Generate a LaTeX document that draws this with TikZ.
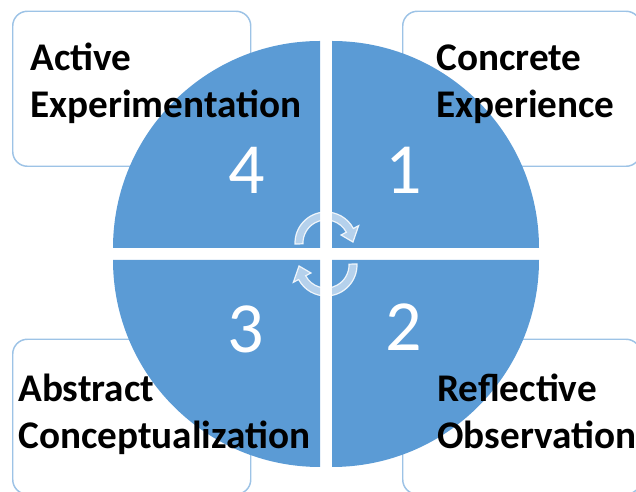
\documentclass[tikz,border=0pt]{standalone}
\usepackage{fontspec}
\setmainfont{Carlito}
\definecolor{cycleblue}{HTML}{5B9BD5}
\definecolor{boxline}{HTML}{9DC3E6}
\tikzset{
    stagebox/.style={
        rectangle,
        draw=boxline,        % border colour
        line width=1.1pt,
        fill=white,
        rounded corners=11pt,
        minimum width=178.5pt,
        minimum height=116.25pt,
        anchor=south west,
        inner sep=0
    },
    stagetext/.style={
        anchor=base west,    % baseline of the last line
        align=left,
        inner sep=0,
        font=\bfseries\fontsize{29.4}{35.25}\selectfont
    },
    stagenum/.style={
        text=white,
        inner sep=0,
        font=\fontsize{54}{54}\selectfont
    },
    quarter/.style={fill=cycleblue},
    turnarrow/.style={
        fill=white, fill opacity=0.55,
        draw=white, draw opacity=0.85,
        line width=0.9pt
    }
}

\begin{document}
\begin{tikzpicture}[x=0.75pt, y=0.75pt]
\useasboundingbox (0,0) rectangle (636,492);

\def\R{207}
% corners of the four quarters
\coordinate (Q1) at (332,244);
\coordinate (Q2) at (332,232);
\coordinate (Q3) at (320,232);
\coordinate (Q4) at (320,244);
% centres of the two turning arrows
\coordinate (turnA) at (326,249);
\coordinate (turnB) at (326,227);

% boxes behind the circle
\node[stagebox] (boxae) at (12,325) {};
\node[stagebox] (boxce) at (402,325) {};
\node[stagebox] (boxac) at (12,-3) {};
\node[stagebox] (boxro) at (402,-3) {};

% the four quarters
\fill[quarter] (Q1) -- ++(\R,0) arc[start angle=0, end angle=90, radius=\R] -- cycle;
\fill[quarter] (Q2) -- ++(0,-\R) arc[start angle=270, end angle=360, radius=\R] -- cycle;
\fill[quarter] (Q3) -- ++(-\R,0) arc[start angle=180, end angle=270, radius=\R] -- cycle;
\fill[quarter] (Q4) -- ++(0,\R) arc[start angle=90, end angle=180, radius=\R] -- cycle;

\node[stagenum] (n1) at (404,322) {1};
\node[stagenum] (n2) at (404,165) {2};
\node[stagenum] (n3) at (246,163) {3};
\node[stagenum] (n4) at (247,322) {4};

% turning arrows in the middle
\draw[turnarrow, shift={(turnA)}] (182:31) arc[start angle=182, end angle=28, radius=31]
    -- (28:37) -- (2:27) -- (28:17) -- (28:23) arc[start angle=28, end angle=182, radius=23] -- cycle;
\draw[turnarrow, shift={(turnB)}] (2:31) arc[start angle=2, end angle=-152, radius=31]
    -- (208:37) -- (182:27) -- (208:17) -- (208:23) arc[start angle=-152, end angle=2, radius=23] -- cycle;

% stage names
\node[stagetext] (ae) at (30,374) {Active\\Experimentation};
\node[stagetext] (ce) at (436,374) {Concrete\\Experience};
\node[stagetext] (ac) at (18,43) {Abstract\\Conceptualization};
\node[stagetext] (ro) at (437,43) {Reflective\\Observation};

\end{tikzpicture}
\end{document}
